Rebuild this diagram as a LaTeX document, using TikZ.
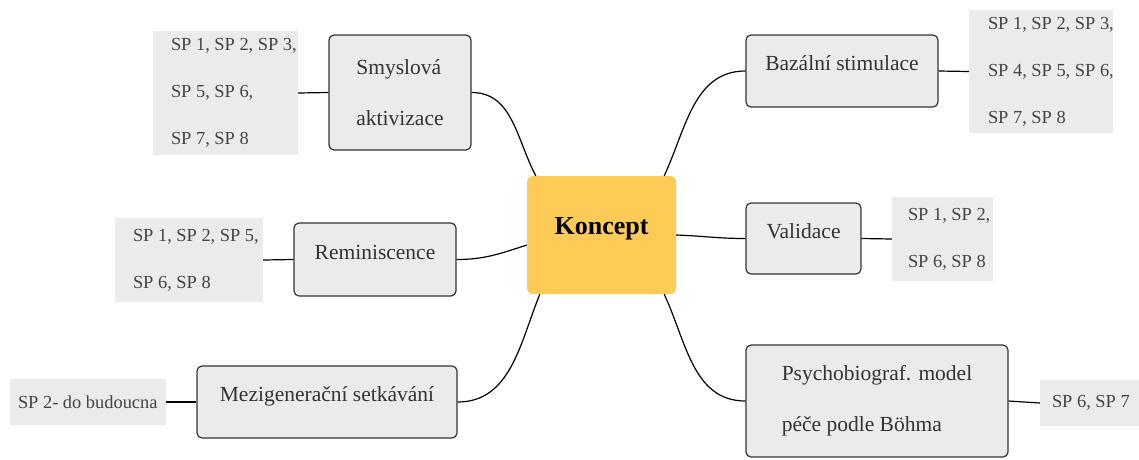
\documentclass[tikz,border=0pt]{standalone}
\usepackage{fontspec}
\setmainfont{Liberation Serif}
\usetikzlibrary{positioning}
\definecolor{konceptColor}{RGB}{254,203,87}
\definecolor{topicColor}{RGB}{235,235,235}
\definecolor{spColor}{RGB}{235,235,235}
\definecolor{borderColor}{RGB}{51,51,51}
\definecolor{textColor}{RGB}{51,51,51}
\definecolor{spTextColor}{RGB}{68,68,68}
\tikzstyle{mindmapPlane} = [x = 1pt, y = -1pt]
\tikzstyle{konceptStyle} = [fill=konceptColor, rounded corners = 6pt, minimum width = 149pt, minimum height = 118pt, text depth = 18pt, font=\fontsize{26}{30}\selectfont\bfseries]
\tikzstyle{topicStyle} = [draw=borderColor, fill=topicColor, rounded corners = 5pt, line width = 1.2pt, text=textColor, align=left, font=\fontsize{21.5}{51}\selectfont]
\tikzstyle{raisedText} = [text depth = 15pt]
\tikzstyle{spFill} = [fill=spColor, inner sep=0pt]
\tikzstyle{spText} = [text=spTextColor, align=left, inner sep=0pt, font=\fontsize{18.4}{47}\selectfont]
\tikzstyle{branchLine} = [line width=1.2pt, color=black]
\newcommand{\spGroup}[6]{
  \node [spFill, minimum width = #3, minimum height = #4] (#1) at #2 {};
  \node [spText, anchor = west] (#1Text) at ([xshift = #5]#1.west) {#6};
}

\begin{document}
\begin{tikzpicture}[mindmapPlane]
  \useasboundingbox (0,0) rectangle (1139,459);
  % centre
  \node [konceptStyle] (koncept) at (601.5,235) {Koncept};

  % topics
  \node [topicStyle, minimum width = 142pt, minimum height = 115pt] (smysl) at (400,92.5) {Smyslová\\aktivizace};
  \node [topicStyle, raisedText, minimum width = 192pt, minimum height = 72pt] (bazal) at (842,71) {Bazální stimulace};
  \node [topicStyle, raisedText, minimum width = 115pt, minimum height = 71pt] (valid) at (803.5,238.5) {Validace};
  \node [topicStyle, minimum width = 262pt, minimum height = 112pt] (psycho) at (877,401) {Psychobiograf. model\\péče podle Böhma};
  \node [topicStyle, raisedText, minimum width = 162pt, minimum height = 73pt] (remin) at (375,259.5) {Reminiscence};
  \node [topicStyle, raisedText, minimum width = 260pt, minimum height = 72pt] (mezi) at (327,402) {Mezigenerační setkávání};

  % SP groups
  \spGroup{spSmysl}{(225.5,93)}{145pt}{124pt}{18pt}{SP 1, SP 2, SP 3,\\SP 5, SP 6,\\SP 7, SP 8}
  \spGroup{spBazal}{(1041,71.5)}{144pt}{123pt}{19pt}{SP 1, SP 2, SP 3,\\SP 4, SP 5, SP 6,\\SP 7, SP 8}
  \spGroup{spValid}{(942.5,239)}{101pt}{84pt}{16pt}{SP 1, SP 2,\\SP 6, SP 8}
  \spGroup{spPsycho}{(1089.5,403)}{99pt}{46pt}{12pt}{SP 6, SP 7}
  \spGroup{spRemin}{(189,260)}{148pt}{84pt}{18pt}{SP 1, SP 2, SP 5,\\SP 6, SP 8}
  \spGroup{spMezi}{(88,402)}{156pt}{46pt}{8pt}{SP 2- do budoucna}

  % branches
  \draw [branchLine] (smysl.east) to [out=0, in=118] ([xshift=9pt]koncept.north west);
  \draw [branchLine] ([xshift=-12pt]koncept.north east) to [out=65, in=180] (bazal.west);
  \draw [branchLine] (koncept.east) to [out=-2, in=180] (valid.west);
  \draw [branchLine] ([xshift=-12pt]koncept.south east) to [out=-65, in=180] (psycho.west);
  \draw [branchLine] (remin.east) to [out=0, in=198] ([yshift=-10pt]koncept.west);
  \draw [branchLine] (mezi.east) to [out=0, in=-112] ([xshift=13pt]koncept.south west);

  % leaves
  \draw [branchLine] (spSmysl.east) -- (smysl.west);
  \draw [branchLine] (bazal.east) -- (spBazal.west);
  \draw [branchLine] (valid.east) -- (spValid.west);
  \draw [branchLine] (psycho.east) -- (spPsycho.west);
  \draw [branchLine] (spRemin.east) -- (remin.west);
  \draw [branchLine] (spMezi.east) -- (mezi.west);
\end{tikzpicture}
\end{document}
